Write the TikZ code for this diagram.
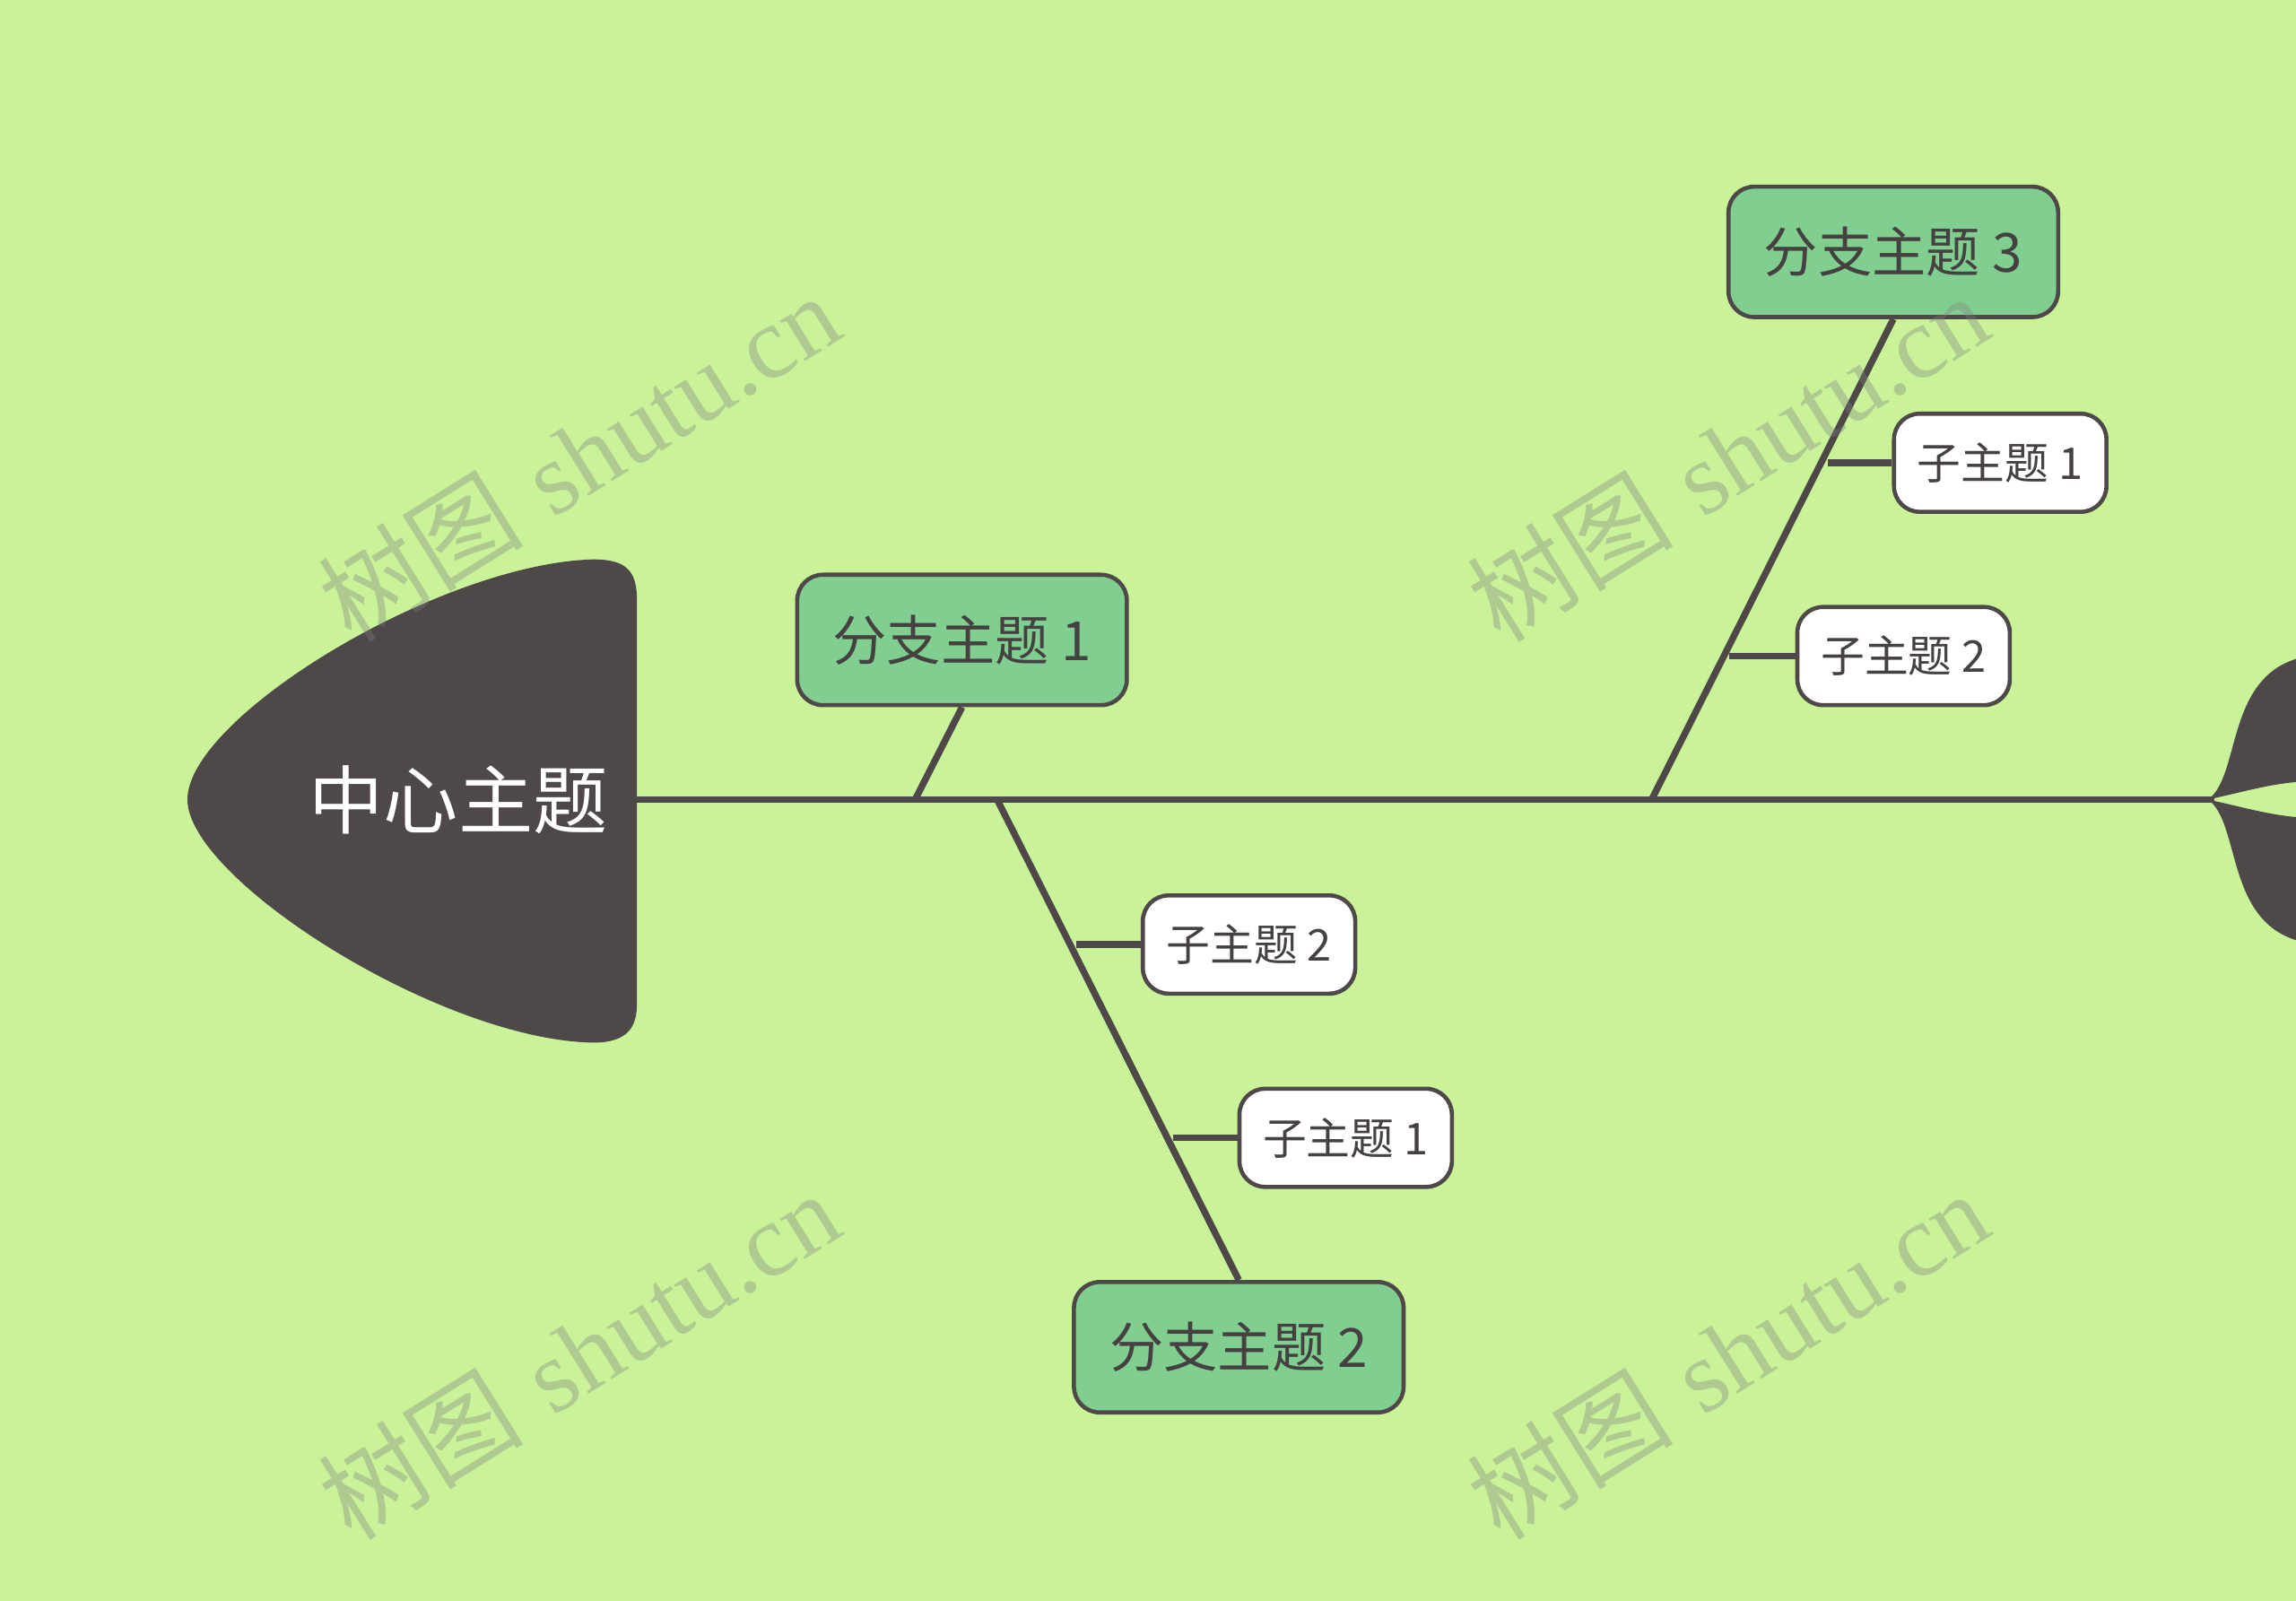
\documentclass[tikz,border=0pt]{standalone}
\usepackage{fontspec}
\newfontfamily\cjk{Noto Sans CJK SC}
\newfontfamily\wmlat{Liberation Serif}
\definecolor{bg}{HTML}{C9F299}
\definecolor{dk}{HTML}{4E4848}
\definecolor{gb}{HTML}{80CF90}
\begin{document}
\begin{tikzpicture}[x=0.01cm,y=-0.01cm,
  ln/.style={dk,line width=1.3pt},
  branch/.style={draw=dk,fill=gb,rounded corners=5pt,line width=0.8pt,minimum width=2.25cm,minimum height=0.89cm,font=\cjk\fontsize{10.5}{12}\selectfont,text=dk!90!black},
  sub/.style={draw=dk,fill=white,rounded corners=5pt,line width=0.8pt,minimum width=1.45cm,minimum height=0.67cm,font=\cjk\fontsize{8.5}{10}\selectfont,text=dk!90!black},
  wm/.style={rotate=32,text=gray,opacity=0.35,font=\fontsize{20}{24}\selectfont}]
\fill[bg] (0,0) rectangle (1568,1093);
\useasboundingbox (0,0) rectangle (1568,1093);
% head
\fill[dk] (405,382) .. controls (300,385) and (128,490) .. (128,546) .. controls (128,600) and (300,710) .. (405,712) .. controls (430,712) and (435,700) .. (435,685) -- (435,410) .. controls (435,390) and (428,382) .. (405,382) -- cycle;
\node[text=white,font=\cjk\fontsize{14.5}{16}\selectfont] (c) at (313,546) {中心主题};
% tail
\fill[dk] (1508,546) .. controls (1530,530) and (1520,465) .. (1568,450) -- (1568,534) .. controls (1548,536) and (1535,540) .. (1508,546) .. controls (1535,552) and (1548,556) .. (1568,558) -- (1568,642) .. controls (1520,627) and (1530,562) .. (1508,546) -- cycle;
\coordinate (s0) at (435,546);
\coordinate (s1) at (1512,546);
\draw[ln] (s0) -- (s1);
% branches
\node[branch] (b1) at (657,437) {分支主题 1};
\node[branch] (b2) at (846,920) {分支主题 2};
\node[branch] (b3) at (1293,172) {分支主题 3};
\coordinate (r1) at (625,546);
\coordinate (r2) at (681,546);
\coordinate (r3) at (1128,546);
\draw[ln] (b1.south) -- (r1);
\draw[ln] (r2) -- (b2.north);
\draw[ln] (r3) -- (b3.south);
\node[sub] (a22) at (853,645) {子主题 2};
\node[sub] (a21) at (919,777) {子主题 1};
\node[sub] (a31) at (1366,316) {子主题 1};
\node[sub] (a32) at (1300,448) {子主题 2};
\coordinate (j22) at (735,645);
\coordinate (j21) at (801,777);
\coordinate (j31) at (1248,316);
\coordinate (j32) at (1181,448);
\draw[ln] (j22) -- (a22.west);
\draw[ln] (j21) -- (a21.west);
\draw[ln] (j31) -- (a31.west);
\draw[ln] (j32) -- (a32.west);
% watermarks
\node[wm] (w1) at (395,312) {{\cjk 树图} {\wmlat shutu.cn}};
\node[wm] (w2) at (1180,312) {{\cjk 树图} {\wmlat shutu.cn}};
\node[wm] (w3) at (395,925) {{\cjk 树图} {\wmlat shutu.cn}};
\node[wm] (w4) at (1180,925) {{\cjk 树图} {\wmlat shutu.cn}};
\end{tikzpicture}
\end{document}
